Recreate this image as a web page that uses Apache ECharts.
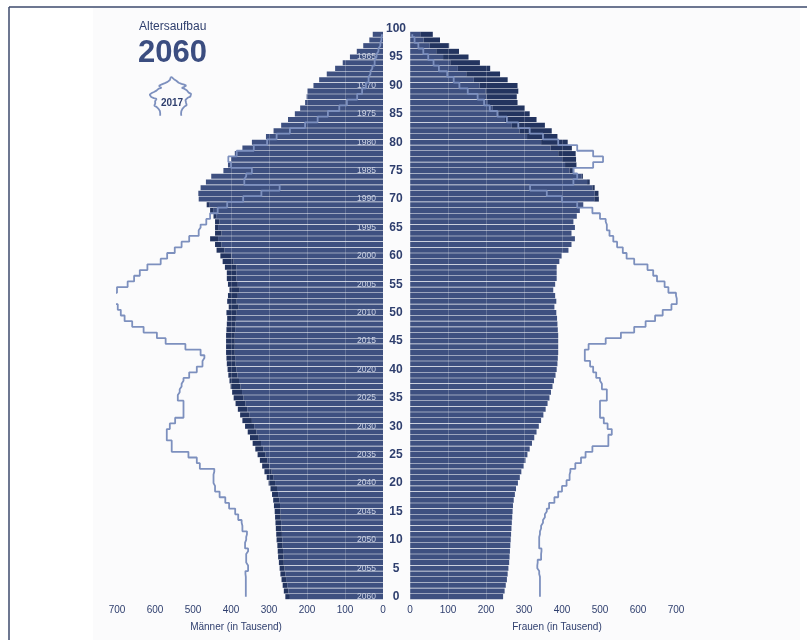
<!DOCTYPE html>
<html>
<head>
<meta charset="UTF-8">
<title>Altersaufbau 2060</title>
<script src="https://cdn.jsdelivr.net/npm/echarts@6/dist/echarts.min.js"></script>
<style>
  html, body { margin: 0; padding: 0; background: #fff; }
  #chart { width: 807px; height: 640px; }
</style>
</head>
<body>
<div id="chart"></div>
<script type="text/javascript">
// Alter 0..100 (100 = Beschriftung oben, ohne Balken)
var ages = [];
for (var i = 0; i <= 100; i++) ages.push(String(i));

// 2060, in Tausend, Alter 0..99
var men2060 = [
  257, 261, 264, 267, 270, 272, 274, 276, 277, 278,
  280, 281, 282, 283, 284, 285, 287, 289, 292, 296,
  301, 306, 312, 318, 324, 330, 336, 343, 350, 356,
  363, 370, 376, 382, 388, 393, 397, 401, 404, 407,
  409, 411, 412, 413, 413, 413, 413, 412, 411, 410,
  412, 406, 410, 408, 404, 408, 411, 411, 416, 422,
  428, 438, 442, 455, 442, 442, 442, 446, 455, 464,
  485, 486, 480, 466, 452, 420, 408, 400, 390, 370,
  345, 308, 288, 268, 250, 232, 218, 205, 201, 199,
  183, 168, 148, 126, 106, 87, 69, 52, 36, 27
];
var women2060 = [
  245, 249, 252, 255, 257, 259, 261, 262, 263, 264,
  265, 266, 267, 268, 269, 270, 271, 273, 276, 279,
  284, 289, 293, 299, 304, 309, 315, 321, 327, 333,
  339, 345, 351, 357, 362, 367, 371, 375, 379, 383,
  386, 388, 389, 390, 390, 390, 390, 389, 388, 387,
  385, 380, 385, 382, 377, 382, 386, 386, 386, 393,
  399, 417, 425, 434, 425, 434, 430, 439, 447, 456,
  497, 496, 486, 473, 455, 432, 438, 437, 436, 426,
  415, 388, 373, 355, 333, 315, 302, 283, 281, 285,
  283, 257, 237, 211, 184, 154, 129, 103, 79, 60
];

// 2017 (Umriss)
var men2017 = [
  361, 361, 361, 361, 362, 355, 360, 360, 355, 363,
  360, 358, 370, 372, 381, 389, 405, 415, 430, 442,
  446, 446, 444, 482, 490, 512, 556, 556, 569, 569,
  561, 547, 525, 525, 525, 540, 535, 530, 525, 510,
  490, 475, 470, 480, 520, 572, 595, 630, 660, 680,
  690, 698, 710, 714, 700, 672, 655, 640, 620, 585,
  568, 548, 530, 510, 485, 480, 465, 455, 435, 410,
  368, 320, 272, 365, 360, 345, 400, 407, 385, 340,
  305, 280, 245, 205, 172, 145, 115, 95, 68, 55,
  45, 38, 33, 28, 22, 17, 12, 7, 4, 2
];
var women2017 = [
  342, 342, 342, 342, 340, 335, 336, 345, 346, 340,
  340, 342, 345, 350, 355, 360, 366, 380, 390, 400,
  412, 420, 422, 435, 450, 462, 480, 522, 522, 531,
  520, 510, 500, 500, 500, 518, 518, 505, 500, 490,
  482, 474, 460, 460, 470, 515, 555, 590, 620, 645,
  665, 688, 702, 700, 680, 670, 650, 640, 625, 590,
  570, 560, 545, 535, 525, 518, 515, 500, 480, 440,
  400, 360, 316, 430, 440, 430, 482, 508, 482, 440,
  390, 350, 315, 285, 255, 230, 210, 195, 178, 152,
  130, 115, 98, 76, 62, 48, 35, 22, 12, 6
];

var xTicks = [0, 100, 200, 300, 400, 500, 600, 700];
var birthYearBase = 2060;

var lightBlue = '#3e5080';
var darkBlue = '#23345f';
var lineBlue = '#7d90be';
var textBlue = '#2f3f6e';

// gemeinsamer Teil + Überschuss je Geschlecht
var common = men2060.map(function (m, i) { return Math.min(m, women2060[i]); });
var menExcess = men2060.map(function (m, i) { return Math.max(0, m - women2060[i]); });
var womenExcess = women2060.map(function (w, i) { return Math.max(0, w - men2060[i]); });

var gridTop = 25.8, gridHeight = 573.7;

function valueAxis(grid, inverse, name, pad) {
  return {
    gridIndex: grid, type: 'value', inverse: inverse,
    min: xTicks[0], max: xTicks[xTicks.length - 1], interval: 100,
    z: 5,
    axisLine: {show: false}, axisTick: {show: false},
    splitLine: {lineStyle: {color: 'rgba(255,255,255,0.2)', width: 1}},
    axisLabel: {color: textBlue, fontSize: 10, margin: 6, fontFamily: 'Liberation Sans'},
    name: name, nameLocation: 'middle', nameGap: 23,
    nameTextStyle: {color: textBlue, fontSize: 10, fontFamily: 'Liberation Sans', padding: pad}
  };
}

function stepLine(name, data, axis) {
  return {
    name: name, type: 'line', step: 'middle', data: data,
    xAxisIndex: axis, yAxisIndex: axis, symbol: 'none', z: 6,
    lineStyle: {color: lineBlue, width: 1.8}
  };
}

var chart = echarts.init(document.getElementById('chart'));
chart.setOption({
  animation: false,
  backgroundColor: '#ffffff',
  title: [
    {text: 'Altersaufbau', left: 139, top: 21, padding: 0,
      textStyle: {fontSize: 12, fontWeight: 'normal', color: textBlue, fontFamily: 'Liberation Sans'}},
    {text: '2060', left: 138, top: 38, padding: 0,
      textStyle: {fontSize: 31, fontWeight: 'bold', color: '#3b4d80', fontFamily: 'Liberation Sans'}}
  ],
  grid: [
    {left: 117, top: gridTop, width: 266, height: gridHeight},
    {left: 410, top: gridTop, width: 266, height: gridHeight},
    {left: 150, top: 76, width: 21, height: 40},
    {left: 171, top: 76, width: 21, height: 40}
  ],
  xAxis: [
    valueAxis(0, true, 'Männer (in Tausend)', [0, 28, 0, 0]),
    valueAxis(1, false, 'Frauen (in Tausend)', [0, 0, 0, 28]),
    {gridIndex: 2, type: 'value', inverse: true, min: 0, max: 700, show: false},
    {gridIndex: 3, type: 'value', min: 0, max: 700, show: false}
  ],
  yAxis: [
    {gridIndex: 0, type: 'category', data: ages, position: 'right', z: 5,
      axisLine: {show: false}, axisTick: {show: false},
      axisLabel: {inside: true, interval: 4, margin: 7, fontSize: 8.5, color: '#ccd3e4',
        fontFamily: 'Liberation Sans',
        formatter: function (v) { var a = +v; return a <= 95 ? String(birthYearBase - a) : ''; }}},
    {gridIndex: 1, type: 'category', data: ages, position: 'left',
      axisLine: {show: false}, axisTick: {show: false},
      axisLabel: {interval: 4, margin: 14, align: 'center', fontSize: 12, fontWeight: 'bold',
        color: textBlue, fontFamily: 'Liberation Sans'}},
    {gridIndex: 2, type: 'category', data: ages, show: false},
    {gridIndex: 3, type: 'category', data: ages, show: false}
  ],
  series: [
    {name: 'Männer', type: 'bar', stack: 'm', data: common, xAxisIndex: 0, yAxisIndex: 0,
      barCategoryGap: 0.6, itemStyle: {color: lightBlue}},
    {name: 'Männerüberschuss', type: 'bar', stack: 'm', data: menExcess, xAxisIndex: 0, yAxisIndex: 0,
      itemStyle: {color: darkBlue}},
    {name: 'Frauen', type: 'bar', stack: 'w', data: common, xAxisIndex: 1, yAxisIndex: 1,
      barCategoryGap: 0.6, itemStyle: {color: lightBlue}},
    {name: 'Frauenüberschuss', type: 'bar', stack: 'w', data: womenExcess, xAxisIndex: 1, yAxisIndex: 1,
      itemStyle: {color: darkBlue}},
    stepLine('Männer 2017', men2017, 0),
    stepLine('Frauen 2017', women2017, 1),
    stepLine('Männer 2017 klein', men2017, 2),
    stepLine('Frauen 2017 klein', women2017, 3)
  ],
  graphic: [
    {type: 'rect', z: -10, silent: true, shape: {x: 93, y: 8, width: 707, height: 632},
      style: {fill: '#fbfbfc'}},
    {type: 'text', z: 20, silent: true,
      style: {text: '2017', x: 172, y: 103, align: 'center', verticalAlign: 'middle',
        textAlign: 'center', textVerticalAlign: 'middle',
        font: 'bold 10px "Liberation Sans"', fill: textBlue}},
    {type: 'line', z: 20, silent: true, shape: {x1: 9, y1: 7, x2: 807, y2: 7},
      style: {stroke: '#3c4a6c', lineWidth: 1.5}},
    {type: 'line', z: 20, silent: true, shape: {x1: 9, y1: 7, x2: 9, y2: 640},
      style: {stroke: '#3c4a6c', lineWidth: 1.5}}
  ]
});
</script>
</body>
</html>
